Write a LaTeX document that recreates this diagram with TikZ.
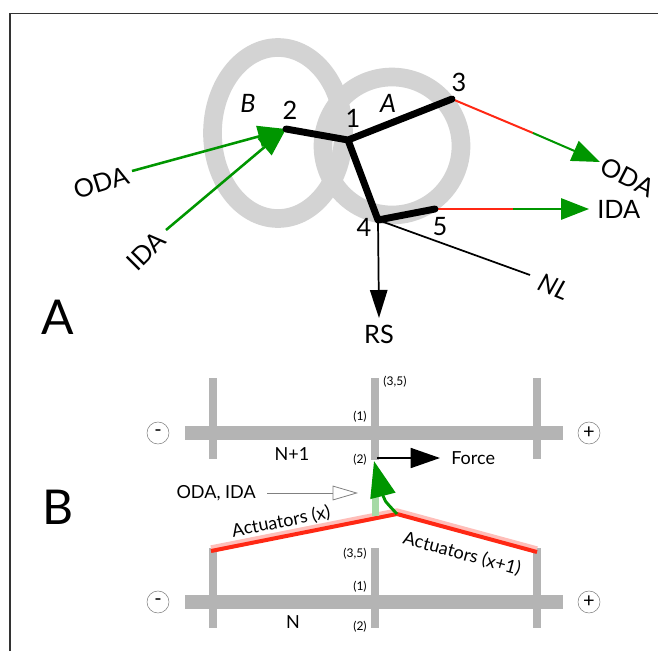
\documentclass[tikz,border=0pt]{standalone}
\usepackage{fontspec}
\setmainfont{Lato}
\usetikzlibrary{arrows.meta,positioning}
\definecolor{ringgray}{RGB}{211,211,211}
\definecolor{bargray}{RGB}{180,180,180}
\definecolor{dagreen}{RGB}{0,150,0}
\definecolor{dared}{RGB}{255,40,20}

\begin{document}
\begin{tikzpicture}[x=0.75pt,y=-0.75pt,
    ring/.style={draw=ringgray, line width=14pt},
    bone/.style={line width=5.2pt, line cap=round, line join=round},
    big/.style={inner sep=0pt, font=\fontsize{19}{19}\selectfont},
    mid/.style={inner sep=0pt, font=\fontsize{13.5}{13.5}\selectfont},
    tiny/.style={inner sep=0pt, font=\fontsize{9}{9}\selectfont},
    panel/.style={inner sep=0pt, font=\fontsize{36}{36}\selectfont},
    garrow/.style={dagreen, line width=1.9pt, -{Triangle[length=21pt,width=16pt]}},
    rline/.style={dared, line width=1.5pt},
    gline/.style={dagreen, line width=1.5pt, -{Triangle[length=21pt,width=16pt]}},
    hbar/.style={bargray, line width=10.5pt},
    vbar/.style={bargray, line width=6pt},
    sign/.style={circle, draw=gray, thin, minimum size=16.5pt, inner sep=0pt,
      font=\fontsize{15}{15}\selectfont}
  ]
  \useasboundingbox (0,0) rectangle (658,651);
  % frame
  \draw[black!80, line width=1.1pt] (10,651) -- (10,13.5) -- (658,13.5);

  % panel A: the two rings
  \draw[ring] (278,133) ellipse (65.5 and 85.5);
  \draw[ring] (392,146) ellipse (69 and 69);

  % joints
  \coordinate (p1) at (348,140);
  \coordinate (p2) at (286,129);
  \coordinate (p3) at (452,99);
  \coordinate (p4) at (378,220);
  \coordinate (p5) at (435,209);

  % incoming green arrows
  \coordinate (odaIn) at (132,171);
  \coordinate (idaIn) at (166,230);
  \draw[garrow] (odaIn) -- (p2);
  \draw[garrow] (idaIn) -- (p2);
  \node[big, rotate=17] (odaL) at (101,183) {ODA};
  \node[big, rotate=45] (idaL) at (146,251) {IDA};

  % outgoing red/green
  \coordinate (m3) at (533,133);
  \coordinate (o3) at (600,162);
  \coordinate (m5) at (513,209);
  \coordinate (o5) at (589,209);
  \draw[rline] (p3) -- (m3);
  \draw[gline] (m3) -- (o3);
  \draw[rline] (p5) -- (m5);
  \draw[gline] (m5) -- (o5);
  \node[big, rotate=-27] (odaR) at (628,177) {ODA};
  \node[big, anchor=west] (idaR) at (597,209) {IDA};

  % NL and RS
  \coordinate (nl) at (530,275);
  \coordinate (rs) at (379,318);
  \draw[line width=1.3pt] (p4) -- (nl);
  \draw[line width=1.3pt, -{Triangle[length=21pt,width=13pt]}] (p4) -- (rs);
  \node[big, rotate=-22] (nlL) at (554,287) {\itshape NL};
  \node[big, below=5pt of rs] (rsL) {RS};

  % skeleton
  \draw[bone] (p2) -- (p1) -- (p3);
  \draw[bone] (p1) -- (p4) -- (p5);

  \node[big] (l1) at (353,118) {1};
  \node[big] (l2) at (290,110) {2};
  \node[big] (l3) at (459,82) {3};
  \node[big] (l4) at (364,227) {4};
  \node[big] (l5) at (440,227) {5};
  \node[big] (lA) at (388,103) {\itshape A};
  \node[big] (lB) at (248,103) {\itshape B};

  \node[panel] (pA) at (58,317) {A};
  \node[panel] (pB) at (58,507) {B};

  % panel B: filaments
  \draw[vbar] (213,378) -- (213,459);
  \draw[vbar] (375,378) -- (375,460);
  \draw[vbar] (537,378) -- (537,459);
  \draw[hbar] (185,433) -- (563,433);
  \draw[vbar] (213,548) -- (213,628);
  \draw[vbar] (375,548) -- (375,628);
  \draw[vbar] (537,548) -- (537,628);
  \draw[hbar] (185,602) -- (563,602);

  \node[sign] (mTop) at (158,433) {-};
  \node[sign] (pTop) at (589,433) {+};
  \node[sign] (mBot) at (158,602) {-};
  \node[sign] (pBot) at (589,602) {+};

  \node[tiny] (t35) at (395,382) {(3,5)};
  \node[tiny] (t1) at (360,417) {(1)};
  \node[tiny] (t2) at (360,460) {(2)};
  \node[tiny] (b35) at (355,554) {(3,5)};
  \node[tiny] (b1) at (360,587) {(1)};
  \node[tiny] (b2) at (360,627) {(2)};
  \node[mid] (nTop) at (292,454) {N+1};
  \node[mid] (nBot) at (293,622) {N};

  % actuators
  \coordinate (aL) at (211,551);
  \coordinate (aM) at (397,514);
  \coordinate (aR) at (537,552);
  \draw[dared!30, line width=4.5pt, line join=round]
    ([yshift=2pt]aL) -- ([yshift=2pt]aM) -- ([yshift=2pt]aR);
  \draw[dared, line width=3pt, line join=round] (aL) -- (aM) -- (aR);
  \node[mid, rotate=11] (actX) at (281,522) {Actuators (x)};
  \node[mid, rotate=-15] (actX1) at (462,554) {Actuators (x+1)};

  % force
  \coordinate (f0) at (377,458);
  \coordinate (f1) at (440,458);
  \draw[line width=1.3pt, -{Triangle[length=22pt,width=15pt]}] (f0) -- (f1);
  \node[mid, anchor=west] (force) at (451,458) {Force};

  % green stroke
  \coordinate (gTop) at (374,461);
  \fill[dagreen!35] (372,490) rectangle (379,516);
  \draw[dagreen, line width=2.2pt, -{Triangle[length=27pt,width=19pt]}]
    (aM) .. controls (384,500) .. (gTop);

  % ODA, IDA pointer
  \node[mid, anchor=east] (odaida) at (256,493) {ODA, IDA};
  \coordinate (oiTip) at (358,493);
  \draw[gray, line width=0.6pt, -{Triangle[length=19pt,width=11pt,fill=white]}]
    (267,493) -- (oiTip);
\end{tikzpicture}
\end{document}
